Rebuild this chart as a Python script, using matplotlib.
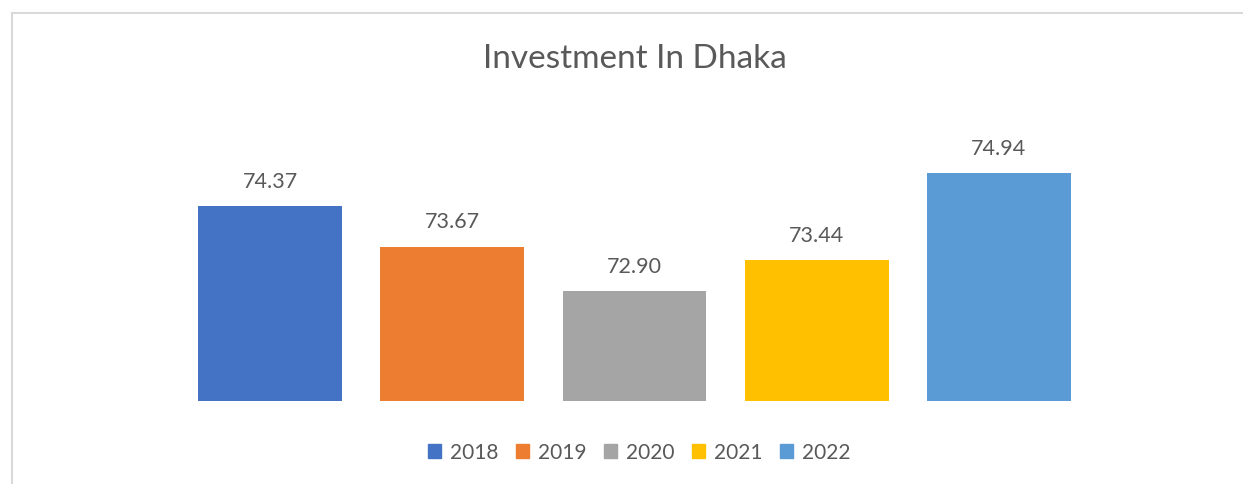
import matplotlib.pyplot as plt
from matplotlib.patches import Patch

# data
years = ['2018', '2019', '2020', '2021', '2022']
values = [74.37, 73.67, 72.90, 73.44, 74.94]
colors = ['#4472C4', '#ED7D31', '#A5A5A5', '#FFC000', '#5B9BD5']

plt.rcParams['font.family'] = ['Lato', 'DejaVu Sans']
text_color = '#595959'

W, H = 1243, 485
fig = plt.figure(figsize=(W / 100, H / 100), dpi=100)

# light gray frame (top and left only visible)
fig.add_artist(plt.Line2D([11.5 / W, 11.5 / W], [0, 1 - 13.5 / H], color='#D9D9D9', lw=1.5))
fig.add_artist(plt.Line2D([11.5 / W, 1], [1 - 13.5 / H, 1 - 13.5 / H], color='#D9D9D9', lw=1.5))

# plot area: x 179..1090 px, y bottom 402, top 142
left, right = 179, 1090
bottom, top = 402, 142
ax = fig.add_axes([left / W, 1 - bottom / H, (right - left) / W, (bottom - top) / H])

x = list(range(len(years)))
bars = ax.bar(x, values, width=0.79, color=colors, bottom=0)
ax.set_xlim(-0.5, len(years) - 0.5)
ax.set_ylim(71, 75.5)
for xi, v in zip(x, values):
    ax.annotate(f'{v:.2f}', (xi, v), xytext=(0, 11), textcoords='offset points',
                ha='center', va='bottom', fontsize=15.5, color=text_color)

ax.axis('off')

fig.text(635 / W, 1 - 59 / H, 'Investment In Dhaka', ha='center', va='center',
         fontsize=24, color=text_color)

handles = [Patch(color=c, label=y) for c, y in zip(colors, years)]
fig.legend(handles=handles, loc='center', bbox_to_anchor=(639 / W, 1 - 453 / H),
           ncol=5, frameon=False, fontsize=15, handlelength=0.65, handleheight=0.65,
           handletextpad=0.4, columnspacing=0.85, labelcolor=text_color)

fig.savefig('out.png', dpi=100, facecolor='white')
